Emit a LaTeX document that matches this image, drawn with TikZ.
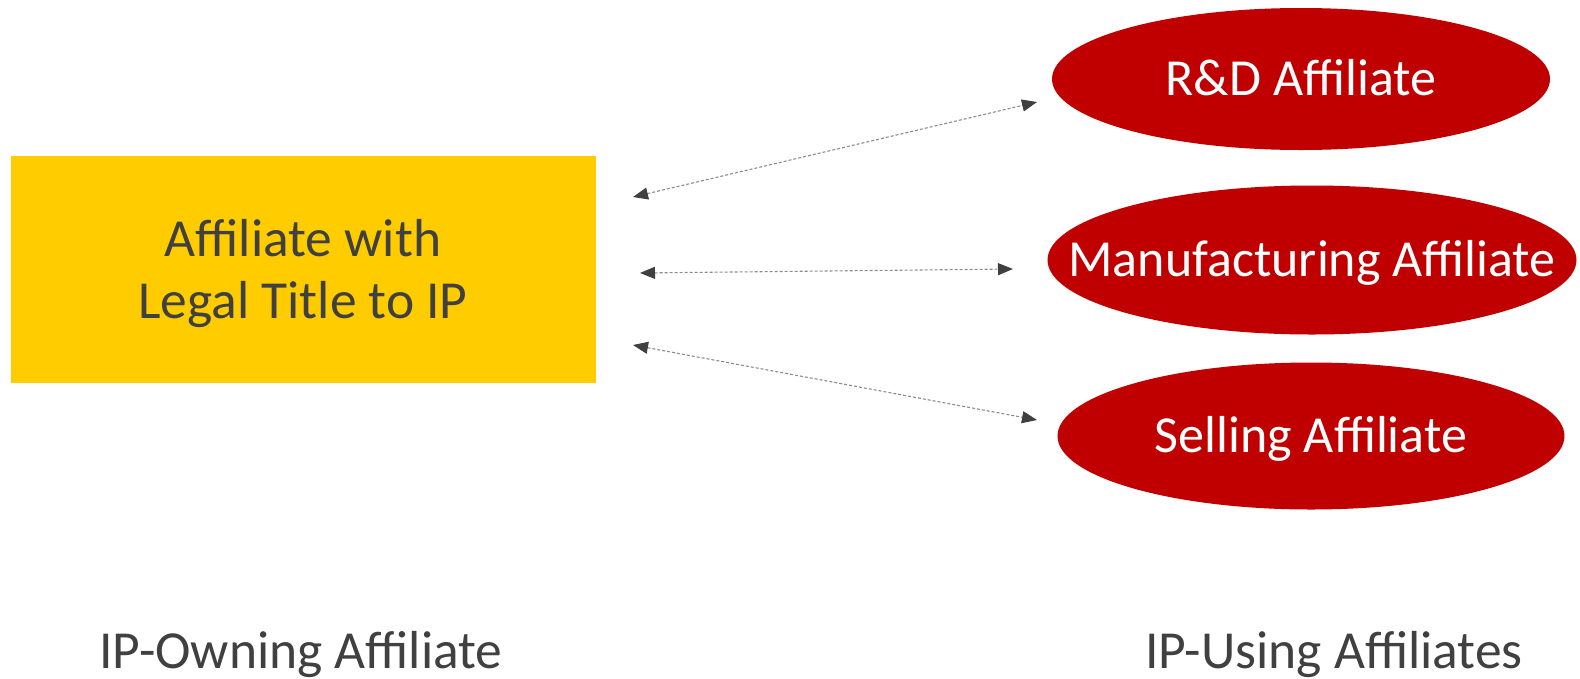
\documentclass[tikz,border=0pt]{standalone}
\usepackage{fontspec}
\setmainfont{Carlito}
\usetikzlibrary{shapes.geometric,arrows.meta}
\definecolor{ipgold}{HTML}{FFCC00}
\definecolor{ipred}{HTML}{C00000}
\definecolor{inkgray}{HTML}{404040}
\definecolor{dashgray}{HTML}{8C8C8C}
\tikzset{
  ownerbox/.style={rectangle, fill=ipgold, inner sep=0pt, minimum width=585pt,
    minimum height=227pt},
  ownertextstyle/.style={inner sep=0pt, text=inkgray, align=center,
    font=\fontsize{53.5}{62}\selectfont},
  userell/.style={ellipse, fill=ipred, inner sep=0pt, text=white,
    text height=33.5pt, text depth=0pt,
    font=\fontsize{52}{61}\selectfont},
  caption/.style={anchor=base, text=inkgray, inner sep=0pt,
    font=\fontsize{53.5}{62}\selectfont},
  link/.style={draw=dashgray, line width=1.1pt, dash pattern=on 3pt off 2pt,
    {Triangle[length=15pt,width=12pt,color=inkgray]}-{Triangle[length=15pt,width=12pt,color=inkgray]}},
}
\begin{document}
\begin{tikzpicture}[x=1pt,y=-1pt]
  \useasboundingbox (0,0) rectangle (1580,678);

  % the IP owner
  \node[ownerbox] (owner) at (303.5,269.5) {};
  \node[ownertextstyle] (ownertext) at (303,273.5) {Affiliate with\\Legal Title to IP};

  % the IP users (text boxed to zero width so the ellipse keeps its set size)
  \node[userell, minimum width=498pt, minimum height=142pt] (rd) at (1301,79)
    {\makebox[0pt]{R\&D Affiliate}};
  \node[userell, minimum width=529pt, minimum height=149pt] (mfg) at (1312,260)
    {\makebox[0pt]{Manufacturing Affiliate}};
  \node[userell, minimum width=507pt, minimum height=147pt] (sell) at (1311,436)
    {\makebox[0pt]{Selling Affiliate}};

  % arrow ends
  \coordinate (o1) at (633,197);
  \coordinate (o2) at (640,273);
  \coordinate (o3) at (633,345);
  \coordinate (r1) at (1037,102);
  \coordinate (m1) at (1013,269);
  \coordinate (s1) at (1037,420);

  \draw[link] (o1) -- (r1);
  \draw[link] (o2) -- (m1);
  \draw[link] (o3) -- (s1);

  % column captions
  \node[caption] (ownlabel) at (301,668) {IP-Owning Affiliate};
  \node[caption] (uselabel) at (1334,668) {IP-Using Affiliates};
\end{tikzpicture}
\end{document}
